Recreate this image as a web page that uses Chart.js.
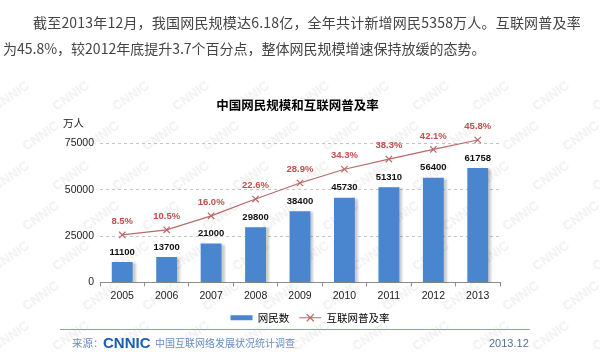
<!DOCTYPE html>
<html lang="zh-CN">
<head>
<meta charset="utf-8">
<title>中国网民规模和互联网普及率</title>
<script src="https://cdn.jsdelivr.net/npm/chart.js@4.4.0/dist/chart.umd.min.js"></script>
<style>
  body { margin: 0; background: #fff; }
  #page { position: relative; width: 600px; height: 362px; overflow: hidden; font-family: "Noto Sans CJK SC", sans-serif; }
  #page canvas { position: absolute; left: 0; top: 0; }
  .abs { position: absolute; white-space: nowrap; }
  .intro { font-size: 14px; line-height: 20px; color: #444; }
  .title { left: 0; width: 595px; top: 96px; text-align: center; font-size: 12.5px; font-weight: bold; line-height: 18px; color: #000; }
  .unit { left: 63px; top: 115px; font-size: 10.5px; line-height: 16px; color: #222; }
  .rule { left: 60px; top: 329px; width: 470px; border-top: 1.5px solid #8da2bb; }
  .src { top: 335px; line-height: 16px; color: #6b8cc0; font-size: 10.5px; }
  .logo { left: 103px; top: 333px; font: bold 15px Arial, "Liberation Sans", sans-serif; line-height: 20px; color: #1d5cb4; }
  .date { left: 489px; top: 335px; font: 11px Arial, "Liberation Sans", sans-serif; line-height: 16px; color: #50708f; }
  .wm { position: absolute; font: bold 13px Arial, "Liberation Sans", sans-serif; color: #f2f2f2; transform: rotate(-35deg); }
</style>
</head>
<body>
<div id="page">
  <div id="marks"></div>
  <canvas id="netChart" width="600" height="362"></canvas>
  <div class="abs intro" style="left:33px;top:12px;letter-spacing:0.2px">截至2013年12月，我国网民规模达6.18亿，全年共计新增网民5358万人。互联网普及率</div>
  <div class="abs intro" style="left:3px;top:38px">为45.8%，较2012年底提升3.7个百分点，整体网民规模增速保持放缓的态势。</div>
  <div class="abs title">中国网民规模和互联网普及率</div>
  <div class="abs unit">万人</div>
  <div class="abs rule"></div>
  <div class="abs src" style="left:72px">来源：</div>
  <div class="abs logo">CNNIC</div>
  <div class="abs src" style="left:155px;font-size:10px">中国互联网络发展状况统计调查</div>
  <div class="abs date">2013.12</div>
</div>
<script>
  // data
  const years = ["2005", "2006", "2007", "2008", "2009", "2010", "2011", "2012", "2013"];
  const netizens = [11100, 13700, 21000, 29800, 38400, 45730, 51310, 56400, 61758];
  const penetration = [8.5, 10.5, 16.0, 22.6, 28.9, 34.3, 38.3, 42.1, 45.8];
  const seriesNames = ["网民数", "互联网普及率"];

  const barColor = "#4a85cf";
  const lineColor = "#b96a69";
  const numFont = 'Arial, "Liberation Sans", sans-serif';

  Chart.defaults.font.family = numFont;

  // faint CNNIC watermark behind the chart
  const marks = document.getElementById("marks");
  for (let row = 0; row < 7; row++) {
    for (let col = 0; col < 11; col++) {
      const s = document.createElement("span");
      s.className = "wm";
      s.textContent = "CNNIC";
      s.style.left = (col * 60 - 10 + (row % 2) * 30) + "px";
      s.style.top = (88 + row * 40) + "px";
      marks.appendChild(s);
    }
  }

  // light shadow behind the bars
  const barShadow = {
    id: "barShadow",
    beforeDatasetDraw(chart, args) {
      if (args.index !== 0) return;
      const ctx = chart.ctx;
      ctx.save();
      ctx.shadowColor = "rgba(0,0,0,0.2)";
      ctx.shadowOffsetX = 3;
      ctx.shadowOffsetY = 1;
      ctx.shadowBlur = 2;
    },
    afterDatasetDraw(chart, args) {
      if (args.index === 0) chart.ctx.restore();
    },
  };

  // numbers above bars and points
  const valueLabels = {
    id: "valueLabels",
    afterDatasetsDraw(chart) {
      const ctx = chart.ctx;
      ctx.save();
      ctx.textAlign = "center";
      ctx.textBaseline = "middle";
      ctx.font = "bold 9.5px " + numFont;
      ctx.fillStyle = "#111";
      chart.getDatasetMeta(0).data.forEach((bar, i) => {
        ctx.fillText(String(netizens[i]), bar.x, bar.y - 10);
      });
      ctx.fillStyle = "#c0504d";
      chart.getDatasetMeta(1).data.forEach((pt, i) => {
        ctx.fillText(penetration[i].toFixed(1) + "%", pt.x, pt.y - 13.5);
      });
      ctx.restore();
    },
  };

  // cross marker on the line legend entry
  const legendCross = {
    id: "legendCross",
    afterDraw(chart) {
      const lg = chart.legend;
      if (!lg || !lg.legendHitBoxes[1]) return;
      const hb = lg.legendHitBoxes[1];
      const cx = hb.left + 11;
      const cy = hb.top + 5.25;
      const ctx = chart.ctx;
      ctx.save();
      ctx.strokeStyle = lineColor;
      ctx.lineWidth = 1.2;
      ctx.beginPath();
      ctx.moveTo(cx - 3.5, cy - 3.5);
      ctx.lineTo(cx + 3.5, cy + 3.5);
      ctx.moveTo(cx + 3.5, cy - 3.5);
      ctx.lineTo(cx - 3.5, cy + 3.5);
      ctx.stroke();
      ctx.restore();
    },
  };

  new Chart(document.getElementById("netChart"), {
    type: "bar",
    data: {
      labels: years,
      datasets: [
        {
          label: seriesNames[0],
          data: netizens,
          backgroundColor: barColor,
          barPercentage: 0.47,
          categoryPercentage: 1,
          yAxisID: "y",
          order: 1,
        },
        {
          type: "line",
          label: seriesNames[1],
          data: penetration,
          borderColor: lineColor,
          borderWidth: 1.2,
          pointStyle: "crossRot",
          pointRadius: 4.5,
          pointBorderColor: lineColor,
          pointBorderWidth: 1.2,
          tension: 0,
          yAxisID: "y1",
          clip: false,
          order: 0,
        },
      ],
    },
    options: {
      responsive: false,
      animation: false,
      layout: { padding: { left: 20, right: 0, top: 143.3, bottom: 29 } },
      plugins: {
        title: { display: false },
        tooltip: { enabled: false },
        legend: {
          position: "bottom",
          labels: {
            usePointStyle: true,
            pointStyleWidth: 22,
            boxHeight: 5,
            padding: 10,
            color: "#333",
            font: { family: '"Noto Sans CJK SC", sans-serif', size: 10.5 },
            generateLabels: (chart) =>
              chart.data.datasets.map((ds, i) => ({
                text: ds.label,
                datasetIndex: i,
                fillStyle: i === 0 ? barColor : lineColor,
                strokeStyle: i === 0 ? barColor : lineColor,
                lineWidth: i === 0 ? 0 : 1.2,
                pointStyle: i === 0 ? "rect" : "line",
                hidden: false,
              })),
          },
        },
      },
      scales: {
        x: {
          offset: true,
          grid: { drawOnChartArea: false, drawTicks: true, tickLength: 4, color: "#8c8c8c", offset: true },
          border: { display: true, color: "#8c8c8c" },
          ticks: { padding: 3, color: "#222", font: { size: 10.5 } },
          afterFit: (s) => { s.height = 20; },
        },
        y: {
          min: 0,
          max: 75000,
          ticks: {
            stepSize: 25000,
            padding: 6,
            color: "#222",
            font: { size: 10.5 },
            callback: (v) => String(v),
          },
          grid: {
            drawTicks: false,
            color: (c) => (c.tick.value === 0 ? "rgba(0,0,0,0)" : "#c4c4c4"),
          },
          border: { display: false, dash: [3, 3] },
          afterFit: (s) => { s.width = 80; },
        },
        y1: {
          position: "right",
          min: -10.2,
          max: 44.5,
          grid: { display: false },
          ticks: { display: false },
          border: { display: false },
          afterFit: (s) => { s.width = 100; },
        },
      },
    },
    plugins: [barShadow, valueLabels, legendCross],
  });
</script>
</body>
</html>
